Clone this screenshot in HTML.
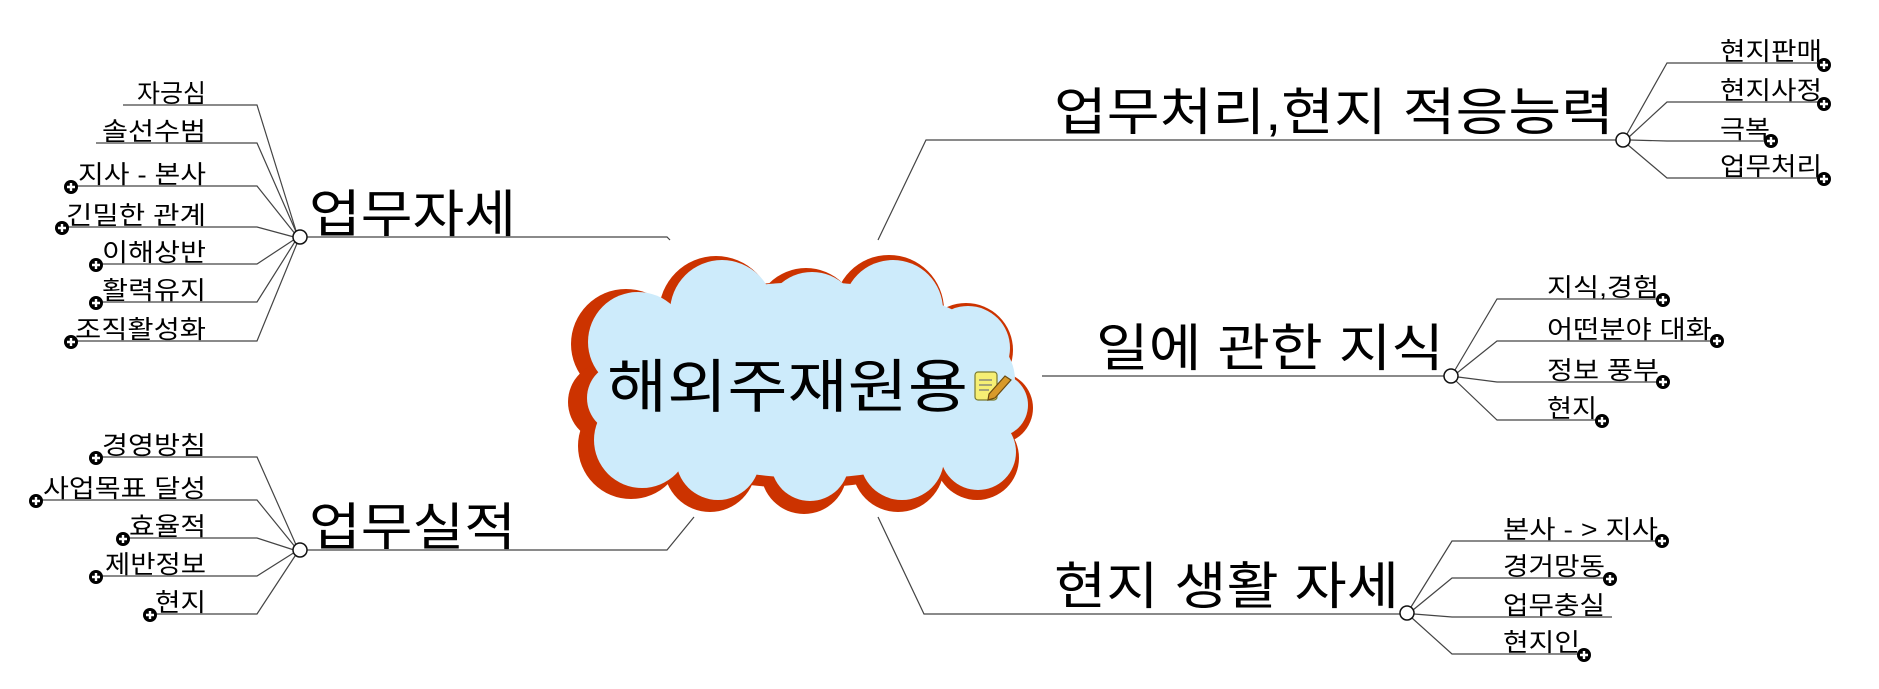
<!DOCTYPE html>
<html><head><meta charset="utf-8"><style>
html,body{margin:0;padding:0;background:#fff;}
svg{display:block;}
text{font-family:"Liberation Sans","Noto Sans CJK KR",sans-serif;fill:#000;}
.c{font-size:25px;}
.m{font-size:51px;}
</style></head><body>
<svg width="1879" height="689" viewBox="0 0 1879 689" xmlns="http://www.w3.org/2000/svg">
<defs>
<g id="pl"><circle r="7" fill="#000"/><path d="M-4 0H4M0 -4V4" stroke="#fff" stroke-width="2.4"/></g>
</defs>
<!-- cloud -->
<g fill="#cc3300" transform="translate(-6,3)">
<ellipse cx="807" cy="382" rx="212" ry="103"/>
<circle cx="632" cy="341" r="55"/><circle cx="722" cy="310" r="57"/><circle cx="812" cy="317" r="52"/>
<circle cx="895" cy="307" r="55"/><circle cx="972" cy="347" r="47"/><circle cx="1003" cy="405" r="36"/>
<circle cx="983" cy="455" r="42"/><circle cx="904" cy="463" r="46"/><circle cx="810" cy="468" r="43"/>
<circle cx="716" cy="463" r="46"/><circle cx="637" cy="443" r="53"/><circle cx="614" cy="399" r="40"/>
</g>
<g fill="#cdebfb">
<ellipse cx="810" cy="380" rx="205" ry="98"/>
<circle cx="638" cy="342" r="50"/><circle cx="722" cy="312" r="52"/><circle cx="812" cy="320" r="48"/>
<circle cx="893" cy="310" r="50"/><circle cx="968" cy="348" r="42"/><circle cx="996" cy="405" r="32"/>
<circle cx="978" cy="452" r="38"/><circle cx="902" cy="458" r="42"/><circle cx="810" cy="462" r="39"/>
<circle cx="718" cy="458" r="42"/><circle cx="642" cy="440" r="48"/><circle cx="622" cy="398" r="35"/>
</g>
<text x="607" y="407" style="font-size:58px" textLength="361" lengthAdjust="spacingAndGlyphs">해외주재원용</text>
<g transform="translate(975,370)">
<rect x="0" y="2" width="22" height="28" rx="3" fill="#f6ef74" stroke="#7a7a30" stroke-width="1.2"/>
<path d="M4 10H17M4 15H17M4 20H14" stroke="#777" stroke-width="1.3"/>
<path d="M14 24L30 6L36 10L20 28L13 30Z" fill="#d89a2a" stroke="#6a4a10" stroke-width="1.2"/>
</g>
<g stroke="#444" stroke-width="1.2" fill="none">
<path d="M307 237H667L670 240"/>
<path d="M307 550H667L694 517"/>
<path d="M878 240L926 140H1616"/>
<path d="M1042 376H1444"/>
<path d="M878 517L924 614H1400"/>
<path d="M123 105H257L297 234"/>
<path d="M96 143H257L297 234"/>
<path d="M71 186H257L296 235"/>
<path d="M62 227H257L294 237"/>
<path d="M96 264H257L295 239"/>
<path d="M96 302H257L296 240"/>
<path d="M71 341H257L298 241"/>
<path d="M96 457H257L297 547"/>
<path d="M36 500H257L296 548"/>
<path d="M123 538H257L294 550"/>
<path d="M96 576H257L295 552"/>
<path d="M150 614H257L297 553"/>
<path d="M1627 134L1667 63H1824"/>
<path d="M1629 137L1667 102H1824"/>
<path d="M1630 140L1667 141H1771"/>
<path d="M1628 145L1667 178H1824"/>
<path d="M1455 370L1497 299H1663"/>
<path d="M1457 373L1497 341H1717"/>
<path d="M1458 377L1497 382H1663"/>
<path d="M1456 381L1497 420H1602"/>
<path d="M1411 607L1452 541H1662"/>
<path d="M1413 610L1452 578H1610"/>
<path d="M1414 614L1452 617H1612"/>
<path d="M1412 618L1452 654H1584"/>
</g>
<g fill="#fff" stroke="#111" stroke-width="1.5">
<circle cx="300" cy="237" r="7"/><circle cx="300" cy="550" r="7"/>
<circle cx="1623" cy="140" r="7"/><circle cx="1451" cy="376" r="7"/><circle cx="1407" cy="613" r="7"/>
</g>
<text class="m" x="309" y="232" textLength="207" lengthAdjust="spacingAndGlyphs">업무자세</text>
<text class="m" x="309" y="545" textLength="207" lengthAdjust="spacingAndGlyphs">업무실적</text>
<text class="m" x="1054" y="130" textLength="560" lengthAdjust="spacingAndGlyphs">업무처리,현지 적응능력</text>
<text class="m" x="1096" y="366" textLength="348" lengthAdjust="spacingAndGlyphs">일에 관한 지식</text>
<text class="m" x="1054" y="604" textLength="345" lengthAdjust="spacingAndGlyphs">현지 생활 자세</text>
<g class="c" text-anchor="end">
<text x="206" y="102">자긍심</text>
<text x="206" y="140" textLength="104" lengthAdjust="spacingAndGlyphs">솔선수범</text>
<text x="206" y="183" textLength="128" lengthAdjust="spacingAndGlyphs">지사 - 본사</text>
<text x="206" y="224" textLength="140" lengthAdjust="spacingAndGlyphs">긴밀한 관계</text>
<text x="206" y="261" textLength="104" lengthAdjust="spacingAndGlyphs">이해상반</text>
<text x="206" y="299" textLength="104" lengthAdjust="spacingAndGlyphs">활력유지</text>
<text x="206" y="338" textLength="131" lengthAdjust="spacingAndGlyphs">조직활성화</text>
<text x="206" y="454" textLength="104" lengthAdjust="spacingAndGlyphs">경영방침</text>
<text x="206" y="497" textLength="163" lengthAdjust="spacingAndGlyphs">사업목표 달성</text>
<text x="206" y="535" textLength="77" lengthAdjust="spacingAndGlyphs">효율적</text>
<text x="206" y="573" textLength="101" lengthAdjust="spacingAndGlyphs">제반정보</text>
<text x="206" y="611" textLength="51" lengthAdjust="spacingAndGlyphs">현지</text>
</g>
<g class="c">
<text x="1720" y="60" textLength="102" lengthAdjust="spacingAndGlyphs">현지판매</text>
<text x="1720" y="99" textLength="102" lengthAdjust="spacingAndGlyphs">현지사정</text>
<text x="1720" y="138" textLength="50" lengthAdjust="spacingAndGlyphs">극복</text>
<text x="1720" y="175" textLength="102" lengthAdjust="spacingAndGlyphs">업무처리</text>
<text x="1547" y="296" textLength="112" lengthAdjust="spacingAndGlyphs">지식,경험</text>
<text x="1547" y="338" textLength="165" lengthAdjust="spacingAndGlyphs">어떤분야 대화</text>
<text x="1547" y="379" textLength="112" lengthAdjust="spacingAndGlyphs">정보 풍부</text>
<text x="1547" y="417" textLength="50" lengthAdjust="spacingAndGlyphs">현지</text>
<text x="1503" y="538" textLength="155" lengthAdjust="spacingAndGlyphs">본사 - &gt; 지사</text>
<text x="1503" y="575" textLength="102" lengthAdjust="spacingAndGlyphs">경거망동</text>
<text x="1503" y="614" textLength="102" lengthAdjust="spacingAndGlyphs">업무충실</text>
<text x="1503" y="651" textLength="77" lengthAdjust="spacingAndGlyphs">현지인</text>
</g>
<use href="#pl" x="71" y="187"/><use href="#pl" x="62" y="228"/><use href="#pl" x="96" y="265"/>
<use href="#pl" x="96" y="303"/><use href="#pl" x="71" y="342"/>
<use href="#pl" x="96" y="458"/><use href="#pl" x="36" y="501"/><use href="#pl" x="123" y="539"/>
<use href="#pl" x="96" y="577"/><use href="#pl" x="150" y="615"/>
<use href="#pl" x="1824" y="65"/><use href="#pl" x="1824" y="104"/><use href="#pl" x="1771" y="141"/><use href="#pl" x="1824" y="179"/>
<use href="#pl" x="1663" y="300"/><use href="#pl" x="1717" y="341"/><use href="#pl" x="1663" y="382"/><use href="#pl" x="1602" y="421"/>
<use href="#pl" x="1662" y="541"/><use href="#pl" x="1610" y="579"/><use href="#pl" x="1584" y="655"/>
</svg>
</body></html>
